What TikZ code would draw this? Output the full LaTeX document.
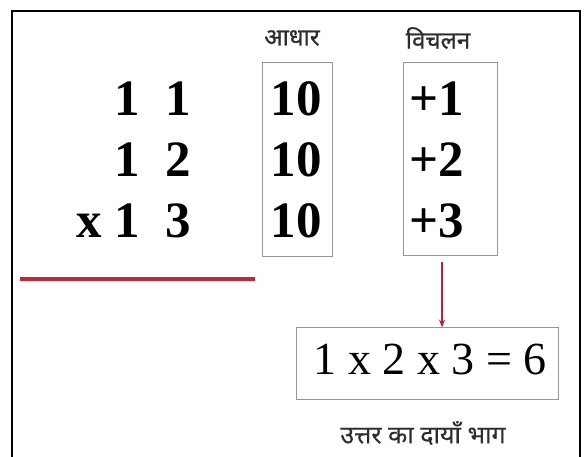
\documentclass[tikz,border=0pt]{standalone}
\usepackage{fontspec}
\setmainfont{Liberation Serif}
\newfontfamily\hindi[Script=Devanagari,FakeBold=0.8]{Noto Sans}
\newfontfamily\hindilight[Script=Devanagari,FakeBold=0.3]{Noto Sans}
\usetikzlibrary{arrows.meta}
\definecolor{boxgray}{RGB}{150,150,150}
\definecolor{linered}{RGB}{190,40,60}
\definecolor{arrred}{RGB}{170,40,55}
\definecolor{hinditext}{RGB}{45,45,45}
\tikzset{
  bignum/.style={inner sep=0pt, font=\fontsize{51}{51}\selectfont\bfseries},
  hlabel/.style={inner sep=0pt, text=hinditext, font=\hindi\fontsize{24}{28}\selectfont},
  caplabel/.style={inner sep=0pt, text=hinditext, font=\hindilight\fontsize{25}{28}\selectfont},
  graybox/.style={draw=boxgray, line width=1pt, inner sep=0pt},
}
\begin{document}
\begin{tikzpicture}[x=1pt,y=-1pt]
\useasboundingbox (0,0) rectangle (587,457);
% outer frame (open at bottom)
\draw[line width=2pt] (12,457) -- (12,11) -- (580,11) -- (580,457);
% headers
\node[hlabel] (lbase) at (292,38) {आधार};
\node[hlabel] (ldev) at (438,38) {विचलन};
% boxes
\node[graybox, minimum width=70pt, minimum height=194pt] (base) at (297,160) {};
\node[graybox, minimum width=94pt, minimum height=193pt] (dev) at (450,159.5) {};
% left column
\node[bignum, anchor=east] (n1) at (191,99) {1\hspace{0.5em}1};
\node[bignum, anchor=east] (n2) at (191,160) {1\hspace{0.5em}2};
\node[bignum, anchor=east] (n3) at (191,221) {x 1\hspace{0.5em}3};
% base column
\node[bignum] (b1) at (296,99) {10};
\node[bignum] (b2) at (296,160) {10};
\node[bignum] (b3) at (296,221) {10};
% deviation column
\node[bignum, anchor=west] (d1) at (409,99) {+1};
\node[bignum, anchor=west] (d2) at (409,160) {+2};
\node[bignum, anchor=west] (d3) at (409,221) {+3};
% red line
\coordinate (r1) at (20,279);
\coordinate (r2) at (255,279);
\draw[linered, line width=4pt] (r1) -- (r2);
% result box
\node[graybox, minimum width=262pt, minimum height=71pt] (res) at (427,363.5) {};
\node[inner sep=0pt, font=\fontsize{46}{46}\selectfont] (restext) at (430,359) {1 x 2 x 3 = 6};
% arrow
\coordinate (a1) at (442,262);
\draw[arrred, line width=1.5pt, -{Stealth[length=8pt,width=6pt]}] (a1) -- (res.north -| a1);
% caption
\node[caplabel] (cap) at (423,433) {उत्तर का दायाँ भाग};
\end{tikzpicture}
\end{document}
